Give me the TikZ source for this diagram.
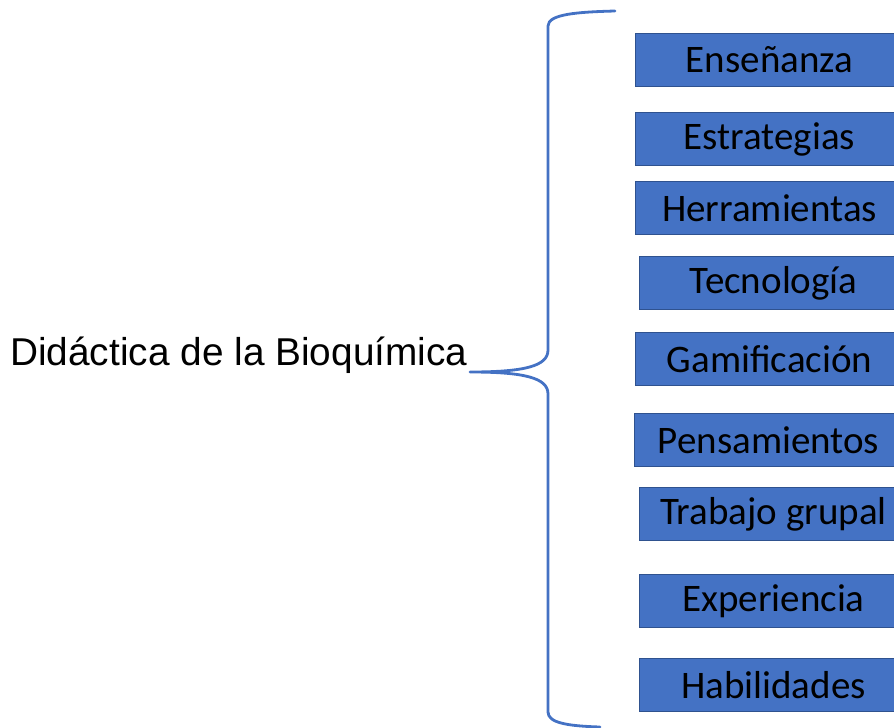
\documentclass[tikz,border=0pt]{standalone}
\usepackage{fontspec}
\setmainfont{Liberation Sans}
\newfontfamily\boxfont{Carlito}
\definecolor{boxblue}{HTML}{4472C4}
\definecolor{boxedge}{HTML}{2F528F}
\begin{document}
\begin{tikzpicture}[x=1pt,y=-1pt,
  item/.style={draw=boxedge, line width=1pt, fill=boxblue, minimum width=268pt,
    minimum height=53pt, inner sep=0pt, anchor=north west,
    font=\boxfont\fontsize{39}{44}\selectfont},
  bracestyle/.style={draw=boxblue, line width=2.8pt, line cap=round, line join=round}]
\useasboundingbox (0,0) rectangle (894,728);
\node[item] (n1) at (635,33) {Enseñanza};
\node[item] (n2) at (635,112) {Estrategias};
\node[item] (n3) at (635,181) {Herramientas};
\node[item] (n4) at (639,256) {Tecnología};
\node[item] (n5) at (635,332) {Gamificación};
\node[item] (n6) at (634,413) {Pensamientos};
\node[item] (n7) at (639,487) {Trabajo grupal};
\node[item] (n8) at (639,574) {Experiencia};
\node[item] (n9) at (639,658) {Habilidades};
\node[anchor=base west, inner sep=0pt, font=\fontsize{38.8}{42}\selectfont] (title) at (10,365) {Didáctica de la Bioquímica};
\coordinate (btop) at (615,11);
\coordinate (btip) at (470,372);
\coordinate (bbot) at (600,727);
\draw[bracestyle] (btop) .. controls (578,12) and (548,14) .. (548,26)
  -- (548,350) .. controls (548,366) and (525,372) .. (btip)
  .. controls (525,372) and (548,378) .. (548,394)
  -- (548,712) .. controls (548,723) and (568,726) .. (bbot);
\end{tikzpicture}
\end{document}
